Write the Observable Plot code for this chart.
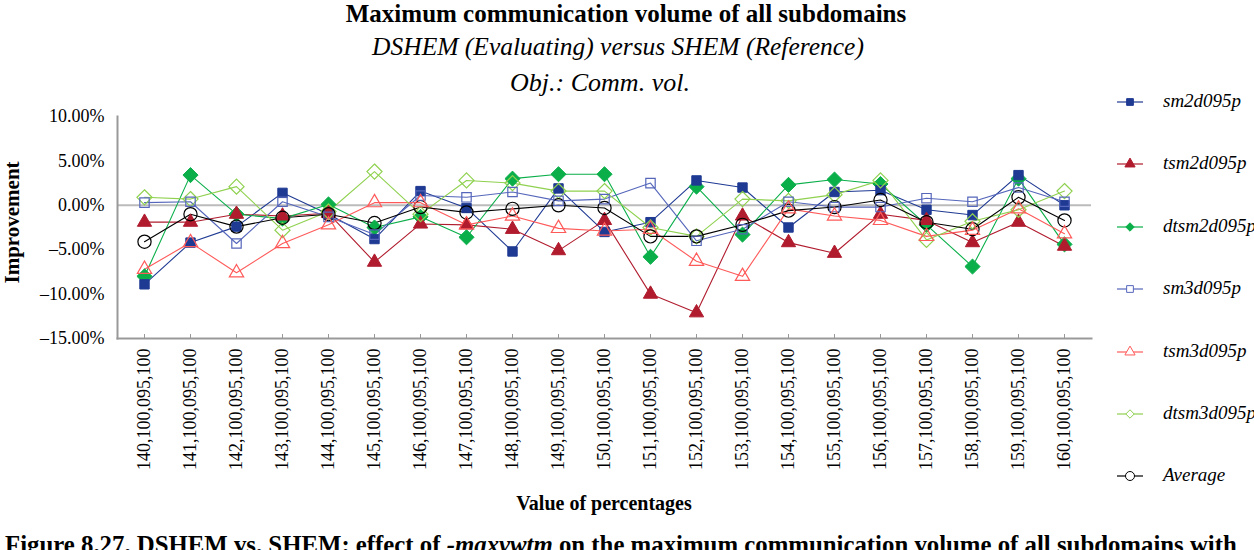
<!DOCTYPE html>
<html>
<head>
<meta charset="utf-8">
<script src="https://cdn.jsdelivr.net/npm/d3@7"></script>
<script src="https://cdn.jsdelivr.net/npm/@observablehq/plot@0.6"></script>
<style>
  html, body { margin: 0; padding: 0; background: #fff; width: 1254px; height: 550px; overflow: hidden; }
  body { position: relative; font-family: "Liberation Serif", "Times New Roman", serif; color: #000; }
  .abs { position: absolute; line-height: 1; white-space: nowrap; }
  .center { left: 0; width: 1254px; text-align: center; }
  #chart { position: absolute; left: 0; top: 100px; }
  .leg { position: absolute; left: 1112px; height: 24px; }
  .leg svg { position: absolute; left: 0; top: 0; }
  .leg span { position: absolute; left: 51px; top: 1px; font-family: "Liberation Serif", serif; font-style: italic; font-size: 19px; line-height: 1; white-space: nowrap; }
</style>
</head>
<body>
<div class="abs center" style="top:1px; left:0; width:1252px; font-weight:bold; font-size:25px;">Maximum communication volume of all subdomains</div>
<div class="abs center" style="top:34px; left:0; width:1236px; font-style:italic; font-size:25.5px;">DSHEM (Evaluating) versus SHEM (Reference)</div>
<div class="abs center" style="top:70px; left:0; width:1200px; font-style:italic; font-size:26px;">Obj.: Comm. vol.</div>
<div class="abs" style="left:-48px; top:213px; width:120px; text-align:center; transform:rotate(-90deg); font-weight:bold; font-size:21px;">Improvement</div>
<div id="chart"></div>
<div id="legend"></div>
<div class="abs" style="left:0; width:1208px; text-align:center; top:493px; font-weight:bold; font-size:20px;">Value of percentages</div>
<div class="abs" style="left:5px; top:533px; font-weight:bold; font-size:24.8px;">Figure 8.27. DSHEM vs. SHEM: effect of <i>-maxvwtm</i> on the maximum communication volume of all subdomains with</div>
<script>
const categories = [
  "140,100,095,100","141,100,095,100","142,100,095,100","143,100,095,100","144,100,095,100",
  "145,100,095,100","146,100,095,100","147,100,095,100","148,100,095,100","149,100,095,100",
  "150,100,095,100","151,100,095,100","152,100,095,100","153,100,095,100","154,100,095,100",
  "155,100,095,100","156,100,095,100","157,100,095,100","158,100,095,100","159,100,095,100",
  "160,100,095,100"
];
const seriesNames = ["sm2d095p","tsm2d095p","dtsm2d095p","sm3d095p","tsm3d095p","dtsm3d095p","Average"];
const sm2d095p   = [-8.9,-4.2,-2.4, 1.4,-1.0,-3.8, 1.6,-0.3,-5.2, 1.9,-3.0,-1.9, 2.8, 2.0,-2.5, 1.5, 1.7,-0.5,-1.1, 3.4, 0.0];
const tsm2d095p  = [-1.9,-1.9,-1.0,-1.2,-0.9,-6.4,-2.1,-2.2,-2.7,-5.1,-1.7,-10.0,-12.1,-1.2,-4.2,-5.4,-1.0,-1.7,-4.2,-1.9,-4.6];
const dtsm2d095p = [-8.0, 3.4,-1.0,-1.5, 0.1,-2.5,-1.3,-3.6, 3.0, 3.5, 3.5,-5.8, 2.1,-3.3, 2.3, 2.9, 2.4,-2.2,-6.9, 3.0,-4.4];
const sm3d095p   = [ 0.3, 0.4,-4.3, 0.4,-1.3,-3.3, 1.1, 0.9, 1.5, 0.5, 0.7, 2.5,-4.0,-2.7, 0.4,-0.2,-0.2, 0.8, 0.4, 2.0, 0.4];
const tsm3d095p  = [-7.2,-4.2,-7.6,-4.3,-2.2, 0.3, 0.3,-2.2,-1.2,-2.6,-2.9,-2.7,-6.3,-8.0,-0.4,-1.2,-1.7,-3.5,-2.8,-0.4,-3.2];
const dtsm3d095p = [ 0.9, 0.7, 2.1,-2.8,-0.7, 3.8,-1.0, 2.8, 2.5, 1.6, 1.6,-2.5,-3.5, 0.7, 0.5, 1.2, 2.8,-3.9,-1.8,-0.5, 1.6];
const Average    = [-4.1,-1.0,-2.4,-1.4,-1.0,-2.0,-0.2,-0.8,-0.4, 0.0,-0.3,-3.5,-3.5,-2.2,-0.6,-0.2, 0.6,-1.9,-2.7, 0.9,-1.7];
const yTicks = [-15, -10, -5, 0, 5, 10];

const seriesValues = [sm2d095p, tsm2d095p, dtsm2d095p, sm3d095p, tsm3d095p, dtsm3d095p, Average];
const colors  = ["#1f3a93", "#b01c2e", "#0aaf4a", "#5566bb", "#ff5a5a", "#8fd14f", "#000000"];
const symbols = ["square", "triangle", "diamond2", "square", "triangle", "diamond2", "circle"];
const filled  = [true, true, true, false, false, false, false];
const radii   = [5.3, 5.3, 6.8, 5.3, 5.3, 6.8, 6.6];

const data = seriesNames.flatMap((s, i) =>
  seriesValues[i].map((v, j) => ({series: s, cat: categories[j], v, filled: filled[i], r: radii[i]})));

const fmt = d => (d < 0 ? "\u2013" : "") + Math.abs(d).toFixed(2) + "%";

const chart = Plot.plot({
  width: 1100,
  height: 380,
  marginLeft: 117,
  marginRight: 9,
  marginTop: 16,
  marginBottom: 142,
  style: {fontFamily: "'Liberation Serif', serif", fontSize: "18px", color: "#000", background: "transparent", overflow: "visible"},
  x: {type: "point", domain: categories, padding: 0.5, label: null},
  y: {domain: [-15, 10], label: null},
  r: {type: "identity"},
  color: {domain: seriesNames, range: colors},
  symbol: {domain: seriesNames, range: symbols},
  marks: [
    Plot.ruleY([0], {stroke: "#bbbbbb", strokeWidth: 2}),
    Plot.frame({anchor: "left", stroke: "#999", strokeWidth: 2}),
    Plot.frame({anchor: "bottom", stroke: "#999", strokeWidth: 2}),
    Plot.axisY({ticks: yTicks, tickSize: 0, tickPadding: 13, tickFormat: fmt, fontSize: 18, fontFamily: "Liberation Serif"}),
    Plot.axisX({tickSize: 0, tickRotate: -90, tickPadding: 10, fontSize: 18, fontFamily: "Liberation Serif"}),
    Plot.ruleX(categories, {x: d => d, y1: -15, y2: -14.55, stroke: "#999"}),
    Plot.line(data, {x: "cat", y: "v", z: "series", stroke: "series", strokeWidth: 1.1}),
    Plot.dot(data.filter(d => d.filled), {x: "cat", y: "v", symbol: "series", fill: "series", stroke: "series", r: "r", strokeWidth: 1}),
    Plot.dot(data.filter(d => !d.filled), {x: "cat", y: "v", symbol: "series", fill: "white", fillOpacity: 0, stroke: "series", r: "r", strokeWidth: 1.2})
  ]
});
document.getElementById("chart").appendChild(chart);

// legend
const legend = document.getElementById("legend");
const symMap = {square: d3.symbolSquare, triangle: d3.symbolTriangle, diamond2: d3.symbolDiamond2, circle: d3.symbolCircle};
seriesNames.forEach((s, i) => {
  const row = document.createElement("div");
  row.className = "leg";
  row.style.top = (90 + i * 62.4) + "px";
  const size = (i === 6 ? 4.5 : 3.8);
  const path = d3.symbol(symMap[symbols[i]], Math.PI * size * size)();
  row.innerHTML = `<svg width="44" height="24"><line x1="5" x2="31" y1="12" y2="12" stroke="${colors[i]}" stroke-width="1.2"/>` +
    `<path d="${path}" transform="translate(18,12)" fill="${filled[i] ? colors[i] : "white"}" stroke="${colors[i]}" stroke-width="1"/></svg>` +
    `<span>${s}</span>`;
  legend.appendChild(row);
});
</script>
</body>
</html>
